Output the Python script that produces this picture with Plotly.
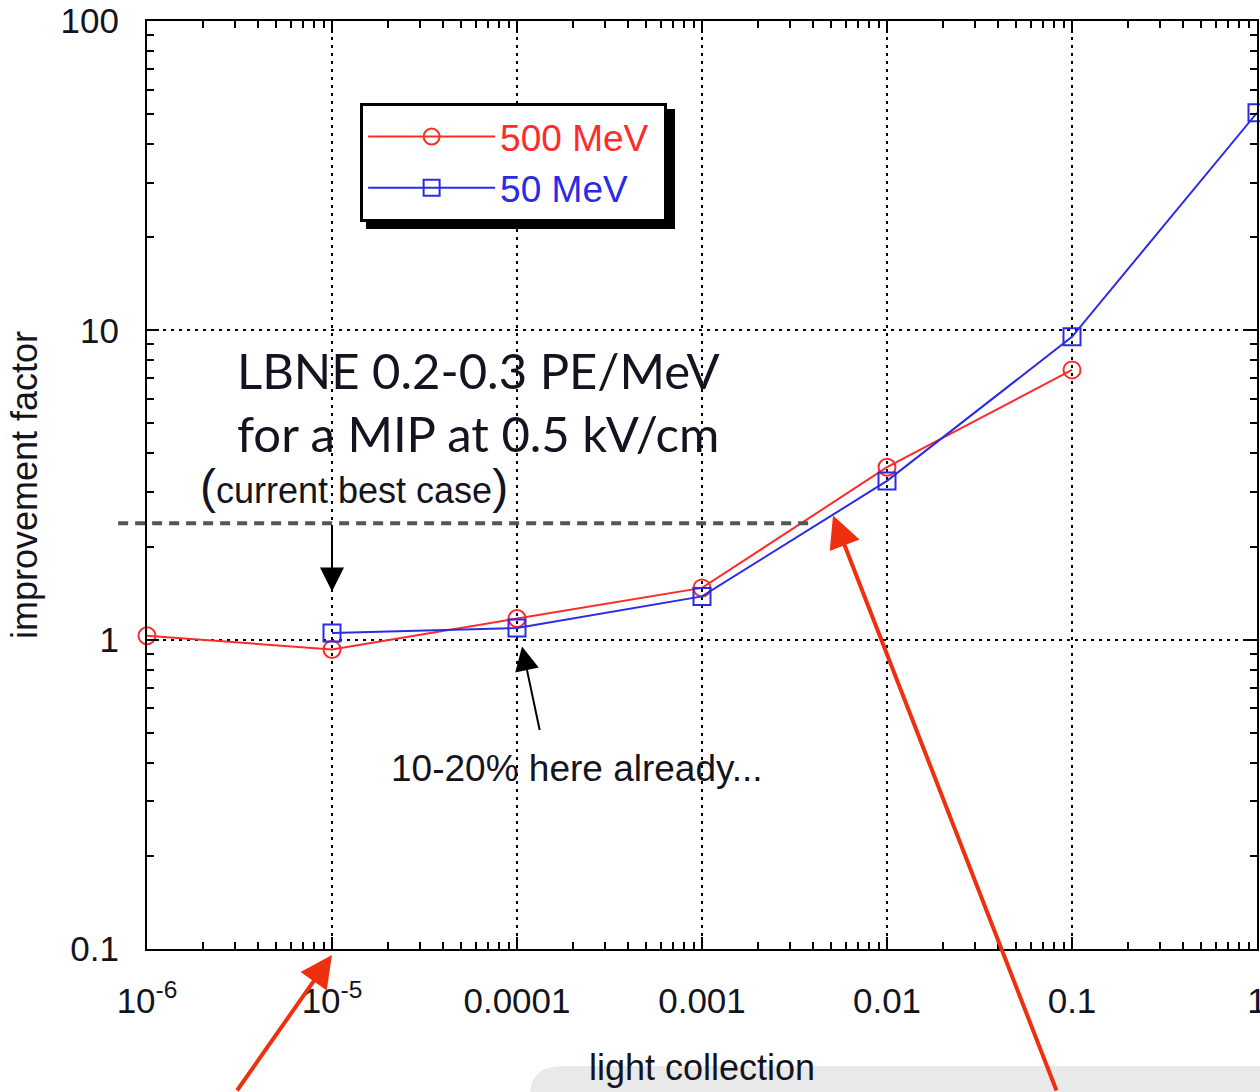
import math
import plotly.graph_objects as go

# ---- data ----
x_500MeV = [1e-6, 1e-5, 1e-4, 1e-3, 1e-2, 1e-1]
y_500MeV = [1.03, 0.93, 1.17, 1.47, 3.61, 7.45]
x_50MeV = [1e-5, 1e-4, 1e-3, 1e-2, 1e-1, 1.0]
y_50MeV = [1.05, 1.09, 1.38, 3.26, 9.53, 50.5]

x_tickvals = [1e-6, 1e-5, 1e-4, 1e-3, 1e-2, 1e-1, 1.0]
x_ticktext = ["10<sup>-6</sup>", "10<sup>-5</sup>", "0.0001", "0.001", "0.01", "0.1", "1"]
y_tickvals = [0.1, 1, 10, 100]
y_ticktext = ["0.1", "1", "10", "100"]

lbne_level = 2.38          # dashed "current best case" level
lbne_end_x = 0.00384       # where the dashed line meets the curves
best_case_x = 1e-5
already_x = 1e-4

RED = "#ff2b2b"
BLUE = "#2b2be6"
ARROW_RED = "#ee3010"
TXT = "#141420"
ARIAL = "Liberation Sans, Arial, sans-serif"

fig = go.Figure()
fig.add_trace(go.Scatter(
    x=x_500MeV, y=y_500MeV, mode="lines+markers",
    name=f"<span style='color:{RED}'>500 MeV&nbsp;</span>",
    line=dict(color=RED, width=2),
    marker=dict(symbol="circle-open", size=17, color=RED, line=dict(width=2, color=RED)),
    cliponaxis=False,
))
fig.add_trace(go.Scatter(
    x=x_50MeV, y=y_50MeV, mode="lines+markers",
    name=f"<span style='color:{BLUE}'>50 MeV</span>",
    line=dict(color=BLUE, width=2),
    marker=dict(symbol="square-open", size=17, color=BLUE, line=dict(width=2, color=BLUE)),
    cliponaxis=False,
))

axis_common = dict(
    showline=True, linecolor="black", linewidth=2, mirror="allticks",
    ticks="inside", ticklen=12, tickwidth=2, tickcolor="black",
    showgrid=True, gridcolor="black", gridwidth=2, griddash="3px,5px",
    tickfont=dict(family=ARIAL, size=35, color=TXT),
    minor=dict(dtick="D1", ticks="inside", ticklen=7, tickwidth=2, tickcolor="black", showgrid=False),
    zeroline=False, ticklabeloverflow="allow",
)

fig.update_xaxes(
    type="log", range=[-6, 0], tickmode="array", tickvals=x_tickvals, ticktext=x_ticktext,
    ticklabelstandoff=20,
    title=dict(text="light collection", font=dict(family=ARIAL, size=36, color=TXT), standoff=36),
    **axis_common,
)
fig.update_yaxes(
    type="log", range=[-1, 2], tickmode="array", tickvals=y_tickvals, ticktext=y_ticktext,
    ticklabelstandoff=19,
    title=dict(text="improvement factor", font=dict(family=ARIAL, size=36, color=TXT), standoff=12),
    **axis_common,
)

# background grey rounded panel at bottom right
fig.add_shape(type="path", xref="paper", yref="paper", layer="below",
              path="M 0.345,-0.2 L 0.345,-0.158 Q 0.345,-0.126 0.375,-0.126 L 1.02,-0.126 L 1.02,-0.2 Z",
              fillcolor="#e9e9e9", line=dict(width=0))

# legend shadow
fig.add_shape(type="rect", xref="paper", yref="paper",
              x0=0.1973, x1=0.4757, y0=0.7759, y1=0.9052,
              fillcolor="black", line=dict(width=0), layer="above")

# dashed LBNE level line
fig.add_shape(type="line", xref="paper", yref="y",
              x0=-0.026, x1=(math.log10(lbne_end_x) + 6) / 6, y0=lbne_level, y1=lbne_level,
              line=dict(color="#555555", width=4, dash="10px,7px"))

CAL = "Lato, Carlito, Calibri, sans-serif"
fig.add_annotation(text="LBNE 0.2-0.3 PE/MeV", xref="paper", yref="paper",
                   x=0.079, y=0.624, xanchor="left", yanchor="middle", showarrow=False,
                   font=dict(family=CAL, size=49, color=TXT))
fig.add_annotation(text="for a MIP at 0.5 kV/cm", xref="paper", yref="paper",
                   x=0.079, y=0.556, xanchor="left", yanchor="middle", showarrow=False,
                   font=dict(family=CAL, size=49, color=TXT))
fig.add_annotation(text="<span style='font-size:48px'>(</span>current best case<span style='font-size:48px'>)</span>",
                   xref="paper", yref="paper",
                   x=0.046, y=0.498, xanchor="left", yanchor="middle", showarrow=False,
                   font=dict(family=ARIAL, size=36, color=TXT))
fig.add_annotation(text="10-20% here already...", xref="paper", yref="paper",
                   x=0.387, y=0.195, xanchor="center", yanchor="middle", showarrow=False,
                   font=dict(family=ARIAL, size=37, color=TXT))

# black arrows
fig.add_annotation(text="", x=math.log10(best_case_x), y=math.log10(1.43), xref="x", yref="y",
                   showarrow=True, ax=0, ay=-67, arrowhead=2, arrowsize=2.4, arrowwidth=2,
                   arrowcolor="black")
fig.add_annotation(text="", x=math.log10(already_x) + 0.027, y=math.log10(0.95), xref="x", yref="y",
                   showarrow=True, ax=18, ay=85, arrowhead=2, arrowsize=2.4, arrowwidth=2,
                   arrowcolor="black")

# red arrows
fig.add_annotation(text="", x=math.log10(best_case_x), y=-0.0065, xref="x", yref="paper",
                   showarrow=True, ax=-96, ay=150, arrowhead=2, arrowsize=1.6, arrowwidth=4,
                   arrowcolor=ARROW_RED)
fig.add_annotation(text="", x=math.log10(lbne_end_x) + 0.124, y=math.log10(lbne_level) + 0.025,
                   xref="x", yref="y",
                   showarrow=True, ax=224, ay=592, arrowhead=2, arrowsize=1.6, arrowwidth=4,
                   arrowcolor=ARROW_RED)

fig.update_layout(
    width=1260, height=1092,
    margin=dict(l=147, r=3, t=21, b=143, autoexpand=False),
    paper_bgcolor="white", plot_bgcolor="white",
    showlegend=True,
    legend=dict(x=0.192, y=0.9116, xanchor="left", yanchor="top",
                bgcolor="white", bordercolor="black", borderwidth=3,
                font=dict(family=ARIAL, size=37, color=TXT),
                itemwidth=127, tracegroupgap=0),
)

fig.write_html("out.html")
